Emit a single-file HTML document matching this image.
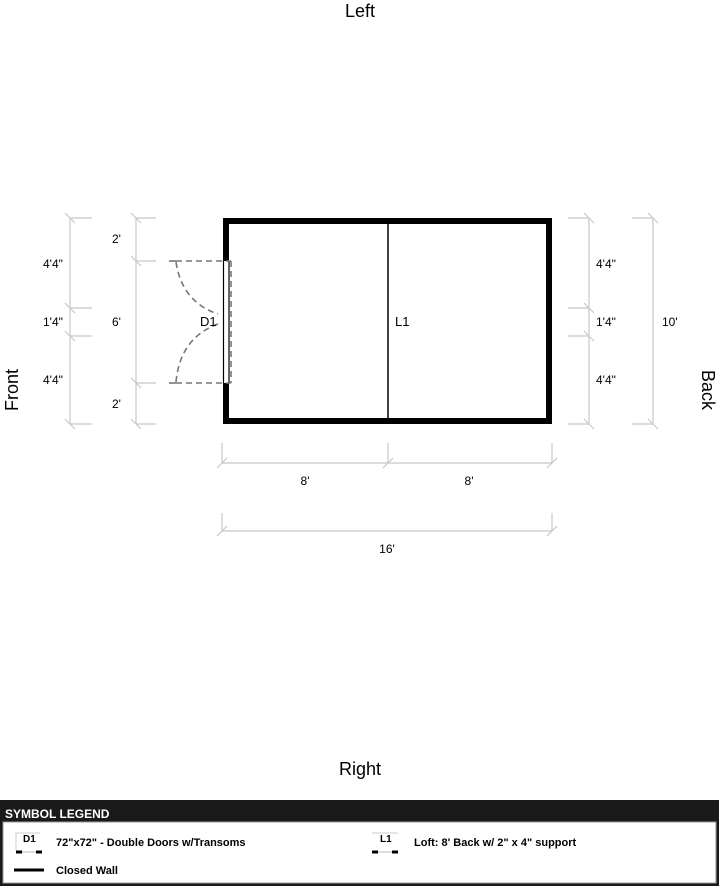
<!DOCTYPE html>
<html><head><meta charset="utf-8"><style>
body{margin:0;width:719px;height:886px;background:#fff;overflow:hidden;position:relative;font-family:"Liberation Sans",sans-serif}
svg{position:absolute;left:0;top:0}
.leg{font-family:"Liberation Sans Narrow","Liberation Sans",sans-serif;font-weight:bold;font-stretch:condensed}
</style></head><body>
<svg width="719" height="886" viewBox="0 0 719 886">
<g font-family="Liberation Sans, sans-serif" font-size="13" fill="#000">
<text x="360" y="17" font-size="18" text-anchor="middle">Left</text>
<text x="360" y="775" font-size="18" text-anchor="middle">Right</text>
<text transform="translate(18,390) rotate(-90)" font-size="18" text-anchor="middle">Front</text>
<text transform="translate(702,390) rotate(90)" font-size="18" text-anchor="middle">Back</text>
</g>
<rect x="226" y="221" width="323" height="200" fill="none" stroke="#000" stroke-width="6"/>
<line x1="388" y1="221" x2="388" y2="421" stroke="#000" stroke-width="1.5"/>
<rect x="222" y="261" width="9" height="122" fill="#fff"/>
<line x1="223.5" y1="261" x2="223.5" y2="383" stroke="#000" stroke-width="1.2"/>
<line x1="229" y1="261" x2="229" y2="383" stroke="#000" stroke-width="1.2"/>
<g stroke="#777" stroke-width="1.6" fill="none">
<line x1="169" y1="261" x2="176" y2="261"/><line x1="169" y1="383" x2="176" y2="383"/>
<g stroke-dasharray="6,4">
<line x1="176" y1="261" x2="231" y2="261"/><line x1="176" y1="383" x2="231" y2="383"/>
<line x1="231" y1="261" x2="231" y2="383"/>
<path d="M176,262 Q182,302 218,314"/><path d="M218,324 Q180,338 176,382"/>
</g></g>
<g font-family="Liberation Sans, sans-serif" font-size="13" fill="#000">
<text x="200" y="326">D1</text><text x="395" y="326">L1</text>
</g>
<g stroke="#c8c8c8" stroke-width="1.2" fill="none">
<line x1="70" y1="218" x2="70" y2="424"/>
<line x1="136" y1="218" x2="136" y2="424"/>
<line x1="589" y1="218" x2="589" y2="424"/>
<line x1="653" y1="218" x2="653" y2="424"/>
<path d="M70,218h22M70,308h22M70,336h22M70,424h22"/>
<path d="M136,218h20M136,261h20M136,383h20M136,424h20"/>
<path d="M568,218h21M568,308h21M568,336h21M568,424h21"/>
<path d="M632,218h21M632,424h21"/>
<path d="M65,213l10,10M65,303l10,10M65,331l10,10M65,419l10,10"/>
<path d="M131,213l10,10M131,256l10,10M131,378l10,10M131,419l10,10"/>
<path d="M584,213l10,10M584,303l10,10M584,331l10,10M584,419l10,10"/>
<path d="M648,213l10,10M648,419l10,10"/>
<line x1="222" y1="463" x2="552" y2="463"/>
<path d="M222,443v20M388,443v20M552,443v20"/>
<path d="M217,468l10,-10M383,468l10,-10M547,468l10,-10"/>
<line x1="222" y1="531" x2="552" y2="531"/>
<path d="M222,513v18M552,513v18"/>
<path d="M217,536l10,-10M547,536l10,-10"/>
</g>
<g font-family="Liberation Sans, sans-serif" font-size="12" fill="#000">
<text x="43" y="268">4'4"</text><text x="43" y="326">1'4"</text><text x="43" y="384">4'4"</text>
<text x="112" y="243">2'</text><text x="112" y="326">6'</text><text x="112" y="408">2'</text>
<text x="596" y="268">4'4"</text><text x="596" y="326">1'4"</text><text x="596" y="384">4'4"</text>
<text x="662" y="326">10'</text>
<text x="305" y="485" text-anchor="middle">8'</text><text x="469" y="485" text-anchor="middle">8'</text>
<text x="387" y="553" text-anchor="middle">16'</text>
</g>
<rect x="0" y="800" width="719" height="86" fill="#1a1a1a"/>
<rect x="3" y="822" width="713" height="61" fill="#fff" stroke="#999" stroke-width="1"/>
<g class="leg" font-size="11">
<text x="5" y="818" fill="#fff" font-size="12">SYMBOL LEGEND</text>
<text x="56" y="846">72"x72" - Double Doors w/Transoms</text>
<text x="56" y="874">Closed Wall</text>
<text x="414" y="846">Loft: 8' Back w/ 2" x 4" support</text>
<text x="23" y="842" font-size="10">D1</text>
<text x="380" y="842" font-size="10">L1</text>
</g>
<g stroke="#000">
<line x1="16" y1="852" x2="22" y2="852" stroke-width="3"/><line x1="36" y1="852" x2="42" y2="852" stroke-width="3"/>
<line x1="22" y1="852" x2="36" y2="852" stroke="#bbb" stroke-width="1"/>
<line x1="372" y1="852" x2="378" y2="852" stroke-width="3"/><line x1="392" y1="852" x2="398" y2="852" stroke-width="3"/>
<line x1="378" y1="852" x2="392" y2="852" stroke="#bbb" stroke-width="1"/>
<line x1="14" y1="870" x2="44" y2="870" stroke-width="3"/>
</g>
<g stroke="#ccc" stroke-width="1" fill="none"><path d="M16,850 V833 H40M372,833 H398"/></g>
</svg>
</body></html>
